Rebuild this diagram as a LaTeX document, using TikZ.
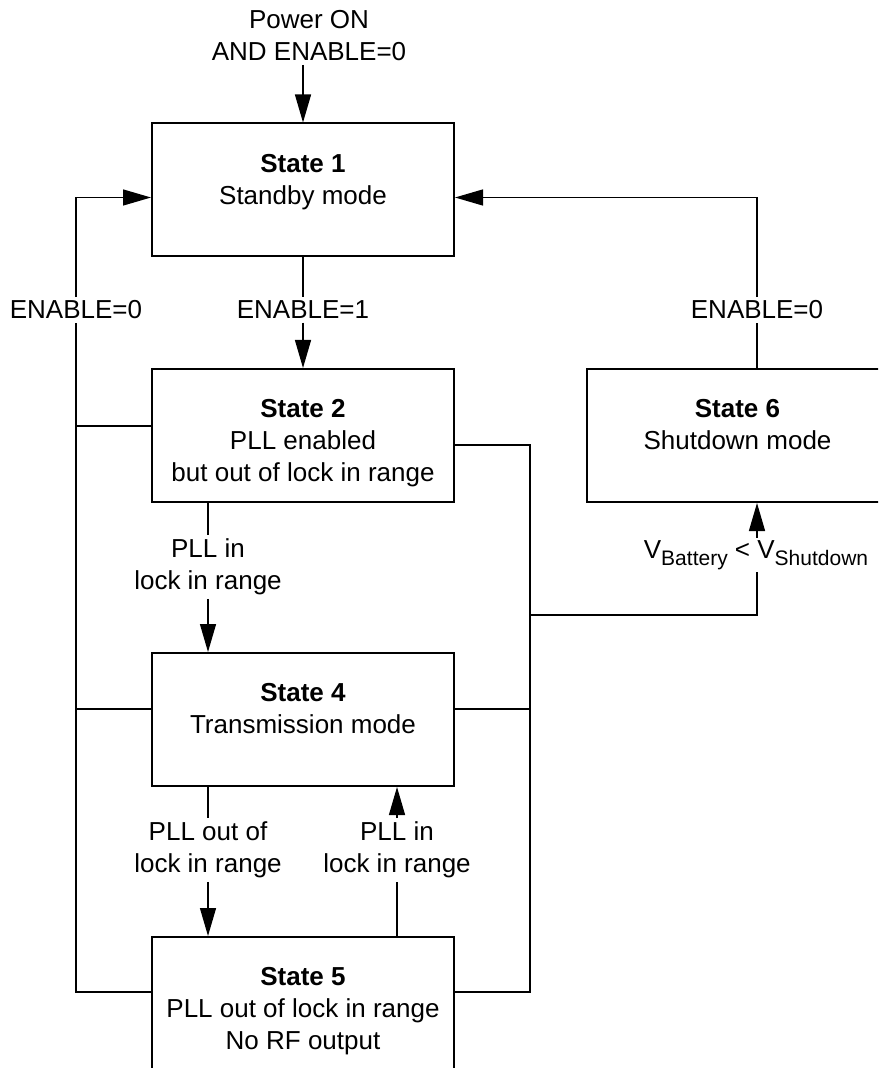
\documentclass[tikz,border=0pt]{standalone}
\usepackage{fontspec}
\setmainfont{Liberation Sans}
\usetikzlibrary{arrows.meta,calc}
\newcommand{\lowsub}[1]{\raisebox{-3.5pt}{\fontsize{10.5pt}{10.5pt}\selectfont #1}}
\tikzset{
  statebox/.style={draw,line width=1pt,minimum width=151pt,minimum height=66.5pt,inner sep=0pt},
  statetext/.style={anchor=north,align=center,inner sep=0pt},
  cond/.style={align=center,inner sep=1.5pt},
  flow/.style={-{Triangle[length=14pt,width=8pt]}},
}
\begin{document}
\begin{tikzpicture}[x=0.5pt,y=-0.5pt,line width=0.67pt,font={\fontsize{13pt}{16pt}\selectfont}]
\useasboundingbox (0,0) rectangle (878,1068);
\clip (0,0) rectangle (878,1068);
% states
\node[statebox] (s1) at (303,190) {};
\node[statebox] (s2) at (303,435.5) {};
\node[statebox] (s4) at (303,719.5) {};
\node[statebox,minimum height=80pt] (s5) at (303,1017) {};
\node[statebox,minimum width=151.5pt] (s6) at (738.5,435.5) {};
\node[statetext] (t1) at ($(s1.north)+(0,31)$) {\textbf{State 1}\\Standby mode};
\node[statetext] (t2) at ($(s2.north)+(0,31)$) {\textbf{State 2}\\PLL enabled\\but out of lock in range};
\node[statetext] (t4) at ($(s4.north)+(0,31)$) {\textbf{State 4}\\Transmission mode};
\node[statetext] (t5) at ($(s5.north)+(0,31)$) {\textbf{State 5}\\PLL out of lock in range\\No RF output};
\node[statetext] (t6) at ($(s6.north)+(-1,31)$) {\textbf{State 6}\\Shutdown mode};
% conditions
\node[cond] (pwr) at (309,36) {Power ON\\AND ENABLE=0};
\node[cond] (en0l) at (76,310) {ENABLE=0};
\node[cond] (en1) at (303,310) {ENABLE=1};
\node[cond] (en0r) at (757,310) {ENABLE=0};
\node[cond] (c24) at (208,567) {PLL in\\lock in range};
\node[cond] (c45) at (208,850) {PLL out of\\lock in range};
\node[cond] (c54) at (397,850) {PLL in\\lock in range};
\node[cond,inner sep=1pt] (vbat) at (756,555) {V\lowsub{Battery} < V\lowsub{Shutdown}};
% junction points
\coordinate (s1l) at ($(s1.north west)+(0,75)$);
\coordinate (s1r) at ($(s1.north east)+(0,75)$);
\coordinate (s2l) at ($(s2.north west)+(0,58)$);
\coordinate (s2r) at ($(s2.north east)+(0,77)$);
\coordinate (s4l) at ($(s4.north west)+(0,57)$);
\coordinate (s4r) at ($(s4.north east)+(0,57)$);
\coordinate (s5l) at ($(s5.north west)+(0,56)$);
\coordinate (s5r) at ($(s5.north east)+(0,56)$);
\coordinate (rb) at (530,615);
% main path
\draw[flow] (pwr.south -| s1) -- (s1);
\draw (s1) -- (en1);
\draw[flow] (en1) -- (s2);
\draw (s2.south -| c24) -- (c24);
\draw[flow] (c24) -- (c24 |- s4.north);
\draw (s4.south -| c45) -- (c45);
\draw[flow] (c45) -- (c45 |- s5.north);
\draw (s5.north -| c54) -- (c54);
\draw[flow] (c54) -- (c54 |- s4.south);
% left bus, back to standby
\draw (s5l) -| (en0l);
\draw[flow] (en0l) |- (s1l);
\draw (s2l) -- (s2l -| en0l);
\draw (s4l) -- (s4l -| en0l);
% right bus, to shutdown and back
\draw (s2r) -| (rb) |- (s5r);
\draw (s4r) -- (s4r -| rb);
\draw (rb) -| (vbat.south -| en0r);
\draw[flow] (vbat.north -| en0r) -- (en0r |- s6.south);
\draw (s6.north -| en0r) -- (en0r);
\draw[flow] (en0r) |- (s1r);
\end{tikzpicture}
\end{document}
